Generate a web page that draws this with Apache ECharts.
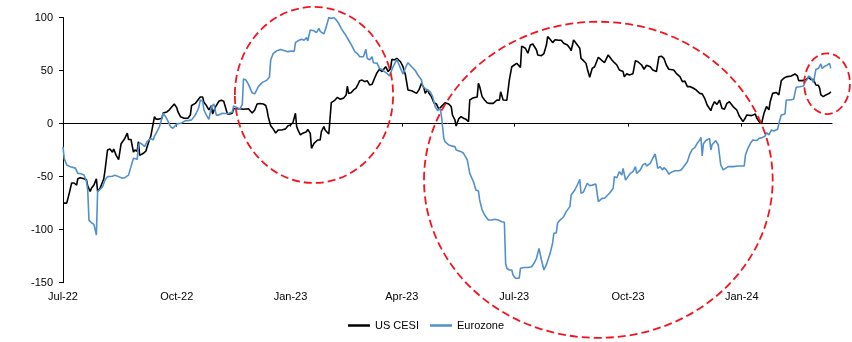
<!DOCTYPE html>
<html>
<head>
<meta charset="utf-8">
<script src="https://cdn.jsdelivr.net/npm/echarts@6/dist/echarts.min.js"></script>
<style>
  html, body { margin: 0; padding: 0; background: #fff; }
  #chart { width: 852px; height: 342px; }
</style>
</head>
<body>
<div id="chart"></div>
<script>
// Citi Economic Surprise Index readings
const usDates = [
  '2022-07-01','2022-07-04','2022-07-06','2022-07-08','2022-07-10','2022-07-12','2022-07-13','2022-07-15','2022-07-18','2022-07-20',
  '2022-07-21','2022-07-23','2022-07-24','2022-07-26','2022-07-28','2022-07-29','2022-07-31','2022-08-03','2022-08-04','2022-08-06',
  '2022-08-08','2022-08-10','2022-08-11','2022-08-13','2022-08-15','2022-08-17','2022-08-20','2022-08-22','2022-08-23','2022-08-25',
  '2022-08-27','2022-08-28','2022-08-30','2022-08-31','2022-09-01','2022-09-04','2022-09-06','2022-09-07','2022-09-09','2022-09-10',
  '2022-09-11','2022-09-13','2022-09-14','2022-09-16','2022-09-19','2022-09-20','2022-09-23','2022-09-25','2022-09-29','2022-10-01',
  '2022-10-02','2022-10-04','2022-10-07','2022-10-10','2022-10-12','2022-10-13','2022-10-16','2022-10-18','2022-10-20','2022-10-22',
  '2022-10-23','2022-10-25','2022-10-27','2022-10-29','2022-10-30','2022-11-01','2022-11-02','2022-11-04','2022-11-06','2022-11-08',
  '2022-11-09','2022-11-11','2022-11-13','2022-11-15','2022-11-16','2022-11-17','2022-11-19','2022-11-21','2022-11-24','2022-11-28',
  '2022-11-29','2022-12-01','2022-12-03','2022-12-05','2022-12-07','2022-12-10','2022-12-12','2022-12-13','2022-12-14','2022-12-16',
  '2022-12-18','2022-12-20','2022-12-22','2022-12-25','2022-12-28','2022-12-30','2023-01-01','2023-01-03','2023-01-05','2023-01-06',
  '2023-01-07','2023-01-09','2023-01-11','2023-01-14','2023-01-15','2023-01-17','2023-01-18','2023-01-20','2023-01-21','2023-01-23',
  '2023-01-25','2023-01-26','2023-01-28','2023-01-29','2023-01-30','2023-02-01','2023-02-02','2023-02-03','2023-02-06','2023-02-08',
  '2023-02-10','2023-02-13','2023-02-15','2023-02-16','2023-02-17','2023-02-19','2023-02-21','2023-02-23','2023-02-25','2023-02-26',
  '2023-02-28','2023-03-02','2023-03-04','2023-03-06','2023-03-08','2023-03-10','2023-03-12','2023-03-14','2023-03-16','2023-03-17',
  '2023-03-19','2023-03-21','2023-03-23','2023-03-24','2023-03-26','2023-03-28','2023-03-31','2023-04-02','2023-04-04','2023-04-06',
  '2023-04-09','2023-04-13','2023-04-15','2023-04-17','2023-04-19','2023-04-20','2023-04-22','2023-04-23','2023-04-25','2023-04-27',
  '2023-04-29','2023-05-01','2023-05-03','2023-05-06','2023-05-09','2023-05-11','2023-05-12','2023-05-14','2023-05-15','2023-05-17',
  '2023-05-19','2023-05-21','2023-05-23','2023-05-25','2023-05-26','2023-05-28','2023-05-30','2023-06-01','2023-06-02','2023-06-03',
  '2023-06-05','2023-06-06','2023-06-07','2023-06-09','2023-06-11','2023-06-14','2023-06-15','2023-06-17','2023-06-19','2023-06-20',
  '2023-06-22','2023-06-23','2023-06-25','2023-06-27','2023-06-29','2023-07-01','2023-07-03','2023-07-04','2023-07-06','2023-07-07',
  '2023-07-10','2023-07-12','2023-07-14','2023-07-16','2023-07-19','2023-07-20','2023-07-23','2023-07-25','2023-07-27','2023-07-28',
  '2023-07-30','2023-08-01','2023-08-03','2023-08-06','2023-08-08','2023-08-10','2023-08-13','2023-08-15','2023-08-16','2023-08-18',
  '2023-08-20','2023-08-23','2023-08-24','2023-08-26','2023-08-28','2023-08-29','2023-08-31','2023-09-02','2023-09-04','2023-09-07',
  '2023-09-10','2023-09-12','2023-09-15','2023-09-18','2023-09-20','2023-09-22','2023-09-24','2023-09-27','2023-09-28','2023-09-30',
  '2023-10-02','2023-10-05','2023-10-07','2023-10-09','2023-10-12','2023-10-14','2023-10-16','2023-10-19','2023-10-21','2023-10-24',
  '2023-10-26','2023-10-28','2023-10-30','2023-11-01','2023-11-03','2023-11-07','2023-11-09','2023-11-12','2023-11-14','2023-11-16',
  '2023-11-18','2023-11-20','2023-11-23','2023-11-25','2023-11-28','2023-11-30','2023-12-02','2023-12-04','2023-12-07','2023-12-08',
  '2023-12-10','2023-12-12','2023-12-14','2023-12-16','2023-12-18','2023-12-20','2023-12-22','2023-12-25','2023-12-28','2023-12-30',
  '2024-01-02','2024-01-04','2024-01-05','2024-01-09','2024-01-12','2024-01-13','2024-01-15','2024-01-17','2024-01-19','2024-01-21',
  '2024-01-23','2024-01-24','2024-01-26','2024-01-29','2024-01-31','2024-02-02','2024-02-04','2024-02-06','2024-02-10','2024-02-13',
  '2024-02-15','2024-02-16','2024-02-19','2024-02-22','2024-02-24','2024-02-26','2024-02-28','2024-03-01','2024-03-03','2024-03-04',
  '2024-03-05','2024-03-07','2024-03-09','2024-03-12','2024-03-13'
];
const usCesi = [
  -75,-75,-66,-56,-56,-58,-52,-51,-52,-53,
  -59,-64,-61,-58,-52,-64,-61,-52,-44,-25,
  -24,-27,-24,-30,-34,-19,-14,-9,-15,-15,
  -27,-25,-26,-17,-30,-28,-26,-22,-15,-12,
  -11,6.5,4.4,4,5,10,11,13,18.5,15,
  11,6.5,5,5,8,17,19,22,25,25,
  20,17,13,17,9,15,17,21,22,21,
  22,9,9,10,14,13.5,14,14,13.5,14,
  14,10,12.5,18.5,19,18.5,17,13,6.5,-2,
  -5,-9,-6,-6,-5,-2,-1.3,0.9,9.7,-2.8,
  -6,-10.7,-9,-7.7,-5.5,-9.2,-23.3,-18.6,-17,-15.5,
  -15.5,-7.6,-2.9,-6,-5.4,-9.8,-10.7,19.7,22.2,24.8,
  23,24,27,35.4,28.5,29,31.7,33.4,38,40.4,
  41,39.5,40.5,36.4,37,42.7,48,51.2,49,50,
  53.6,49,52,60.6,60,61.5,58.3,53.6,45.8,31.7,
  31,28.5,32,38,33.3,28.5,32,28.5,25.4,19.7,
  18.5,13.5,16,19.7,18.5,16,8.1,3.4,-2.3,4.4,
  6.5,5,4,1.8,22.2,23.8,24.5,25,38,35,
  25.4,26,22.2,19.7,19,19,19.7,22.2,22,30,
  22.2,23,22,41,53.6,55.2,56.8,57.5,53,73,
  71,66.3,74,75,69.4,64.7,64,66,74,82,
  79.5,76.3,79,78.5,78.5,75.7,74,71,68.7,78.8,
  75.7,71,61.5,59.3,56.8,52,43.6,52,53.6,62.5,
  59.3,57.4,64.7,60,57.4,55.2,50.5,49,44.2,47,
  45.8,47,59.3,58.3,55.2,51.2,55,53.6,50.5,49,
  63,63.5,61.5,55.2,51.2,50.5,47.4,44.2,39.5,40,
  34.8,35,33.3,31.7,28.5,28,23.8,17.5,12.2,15.9,
  20.6,18,22.2,14.4,13.5,19.1,20.6,16,12.8,7.2,
  1.8,5.5,8.1,7.5,9,5.5,1.8,0,9.7,16,
  13,20.6,28.5,29.3,27,40.5,42.7,44,44.9,46.8,
  45,40.5,40.5,41.5,43.6,41.5,41.5,36.4,36,33.3,
  27,25.4,27,28.5,30
];
const ezDates = [
  '2022-07-01','2022-07-02','2022-07-04','2022-07-07','2022-07-11','2022-07-13','2022-07-15','2022-07-18','2022-07-20','2022-07-21',
  '2022-07-22','2022-07-24','2022-07-26','2022-07-27','2022-07-28','2022-07-29','2022-07-31','2022-08-02','2022-08-04','2022-08-06',
  '2022-08-10','2022-08-12','2022-08-15','2022-08-18','2022-08-20','2022-08-23','2022-08-25','2022-08-27','2022-08-28','2022-08-30',
  '2022-08-31','2022-09-01','2022-09-03','2022-09-05','2022-09-07','2022-09-10','2022-09-12','2022-09-13','2022-09-15','2022-09-17',
  '2022-09-19','2022-09-20','2022-09-22','2022-09-24','2022-09-26','2022-09-27','2022-09-28','2022-10-01','2022-10-02','2022-10-05',
  '2022-10-08','2022-10-11','2022-10-13','2022-10-16','2022-10-18','2022-10-19','2022-10-20','2022-10-22','2022-10-23','2022-10-25',
  '2022-10-27','2022-10-28','2022-10-29','2022-10-31','2022-11-02','2022-11-04','2022-11-07','2022-11-09','2022-11-12','2022-11-15',
  '2022-11-16','2022-11-19','2022-11-21','2022-11-23','2022-11-24','2022-11-26','2022-11-28','2022-12-01','2022-12-03','2022-12-04',
  '2022-12-06','2022-12-09','2022-12-13','2022-12-15','2022-12-16','2022-12-18','2022-12-21','2022-12-24','2022-12-28','2022-12-30',
  '2023-01-02','2023-01-04','2023-01-05','2023-01-07','2023-01-10','2023-01-12','2023-01-14','2023-01-15','2023-01-17','2023-01-20',
  '2023-01-22','2023-01-24','2023-01-25','2023-01-28','2023-01-30','2023-02-01','2023-02-03','2023-02-05','2023-02-07','2023-02-09',
  '2023-02-11','2023-02-14','2023-02-17','2023-02-20','2023-02-22','2023-02-24','2023-02-26','2023-03-01','2023-03-03','2023-03-04',
  '2023-03-06','2023-03-08','2023-03-09','2023-03-12','2023-03-14','2023-03-16','2023-03-18','2023-03-20','2023-03-22','2023-03-25',
  '2023-03-28','2023-03-31','2023-04-02','2023-04-05','2023-04-06','2023-04-09','2023-04-12','2023-04-14','2023-04-17','2023-04-18',
  '2023-04-21','2023-04-24','2023-04-26','2023-04-28','2023-04-30','2023-05-02','2023-05-03','2023-05-05','2023-05-06','2023-05-09',
  '2023-05-11','2023-05-14','2023-05-15','2023-05-19','2023-05-21','2023-05-24','2023-05-26','2023-05-29','2023-05-31','2023-06-02',
  '2023-06-03','2023-06-05','2023-06-07','2023-06-10','2023-06-13','2023-06-15','2023-06-18','2023-06-21','2023-06-23','2023-06-24',
  '2023-06-25','2023-06-27','2023-06-29','2023-06-30','2023-07-02','2023-07-05','2023-07-06','2023-07-09','2023-07-12','2023-07-15',
  '2023-07-17','2023-07-19','2023-07-21','2023-07-23','2023-07-25','2023-07-27','2023-07-30','2023-08-01','2023-08-02','2023-08-04',
  '2023-08-05','2023-08-07','2023-08-10','2023-08-12','2023-08-15','2023-08-16','2023-08-19','2023-08-21','2023-08-23','2023-08-24',
  '2023-08-26','2023-08-29','2023-08-31','2023-09-02','2023-09-05','2023-09-07','2023-09-10','2023-09-12','2023-09-14','2023-09-16',
  '2023-09-19','2023-09-20','2023-09-22','2023-09-24','2023-09-26','2023-09-27','2023-09-28','2023-09-29','2023-10-01','2023-10-03',
  '2023-10-05','2023-10-07','2023-10-08','2023-10-11','2023-10-13','2023-10-15','2023-10-16','2023-10-19','2023-10-21','2023-10-23',
  '2023-10-24','2023-10-25','2023-10-27','2023-10-29','2023-10-30','2023-11-01','2023-11-03','2023-11-06','2023-11-08','2023-11-11',
  '2023-11-13','2023-11-15','2023-11-18','2023-11-20','2023-11-22','2023-11-24','2023-11-26','2023-11-28','2023-11-29','2023-11-30',
  '2023-12-01','2023-12-03','2023-12-06','2023-12-07','2023-12-08','2023-12-11','2023-12-13','2023-12-15','2023-12-17','2023-12-18',
  '2023-12-21','2023-12-25','2023-12-29','2024-01-03','2024-01-04','2024-01-06','2024-01-08','2024-01-10','2024-01-13','2024-01-15',
  '2024-01-17','2024-01-20','2024-01-21','2024-01-23','2024-01-25','2024-01-27','2024-01-30','2024-01-31','2024-02-02','2024-02-05',
  '2024-02-06','2024-02-09','2024-02-12','2024-02-14','2024-02-17','2024-02-20','2024-02-21','2024-02-23','2024-02-24','2024-02-26',
  '2024-02-28','2024-03-01','2024-03-03','2024-03-05','2024-03-06','2024-03-08','2024-03-10','2024-03-12','2024-03-13'
];
const eurozone = [
  -22,-33,-39,-40.6,-42,-47,-47,-48.5,-54.7,-62.6,
  -91,-93.5,-95,-96,-105,-64,-62,-59.5,-53.2,-50,
  -49.6,-48.6,-50,-51.6,-51,-48.6,-40.6,-32.7,-32,-33.7,
  -21.7,-18,-19.5,-21.7,-17,-14,-15.5,-11.8,-7.7,-3,
  5,9.7,6.5,2,-3,-2,-4.4,-0.5,-1.6,0.6,
  2.8,3,3.5,8,12.8,16,22.2,21,12.8,8,
  4,9.7,16,18.5,8,8,9.7,9.5,9.7,11,
  16.6,15,13.5,18,42,41,37,29,28,30,
  34.8,38.6,41,44,60,66,68.7,69.8,68.5,67.8,
  68.5,68,76.3,78,79.5,78.5,81,78,88.2,87.5,
  85.7,89.8,87,84.5,91.4,100,99,100,97.7,94.5,
  89.8,84.5,78.8,72.5,67.8,66,63,63,70,61.6,
  60,63,57.4,57,52,51,49,47.4,44.9,53.6,
  60.6,52,46.8,55.2,57.4,53.6,49.9,45.8,41,34.8,
  32.3,30,25.4,16,12.2,14.4,8.1,-13.9,-17,-20.2,
  -21,-21.7,-24.9,-26.5,-28,-34.3,-46.9,-54.8,-62.6,-63.5,
  -72,-81.4,-86.2,-90.9,-90.9,-90.2,-90.9,-92.5,-93,-131.7,
  -136.4,-138,-138,-142.7,-145.8,-145.8,-136.4,-135.7,-135.7,-135,
  -131.7,-127,-117.6,-128.6,-138,-133,-122.3,-112.8,-103.4,-103,
  -94,-91,-87.8,-83,-78.3,-67.3,-62.6,-57.9,-52.5,-65.7,
  -64.5,-56.3,-58.6,-58,-57,-73.6,-70.5,-70.4,-68,-65.7,
  -61,-50,-51,-45.3,-48.5,-42.2,-41,-53.2,-50,-46.9,
  -45.3,-40.6,-47,-43.7,-39,-37.5,-40,-37.5,-32.7,-28.7,
  -35,-42.2,-40.6,-43.7,-41.5,-43.7,-47.5,-45.3,-44.5,-44.5,
  -43.7,-40.6,-35.9,-28.7,-24.3,-22.7,-18.6,-15.5,-12.9,-30.5,
  -19,-16,-13.9,-24.9,-20,-16,-20.2,-39,-43.7,-42.2,
  -40.6,-40.6,-40,-40,-29.6,-23.3,-18.6,-15.5,-16,-13.9,
  -13.5,-11.7,-8.6,-10.7,-6,-7,-5.4,0,8.1,9,
  22.2,22.2,23,34.2,34.8,35.5,38.6,41.8,44.9,43,
  38.6,51.2,52,56.2,52,54,55,56.8,52
];

// x-axis quarter ticks
const tickDates = ['2022-07-01','2022-10-01','2023-01-01','2023-04-01','2023-07-01','2023-10-01','2024-01-01'];
const tickLabels = ['Jul-22','Oct-22','Jan-23','Apr-23','Jul-23','Oct-23','Jan-24'];
const axisStart = '2022-07-01';
const axisEnd = '2024-03-14';

// dashed highlight rings: centre (date, value) and radii in days / index points
const rings = [
  { date: '2023-01-20', value: 27,   rxDays: 64,   ryPts: 83 },
  { date: '2023-09-07', value: -53,  rxDays: 141,  ryPts: 149 },
  { date: '2024-03-10', value: 37.6, rxDays: 18.5, ryPts: 28.6 }
];

// the x scale counts calendar days from the first date
const DAY = 86400000;
const t0 = Date.UTC(2022, 6, 1);
function dayNo(s) {
  const p = s.split('-').map(Number);
  return Math.round((Date.UTC(p[0], p[1] - 1, p[2]) - t0) / DAY);
}
const tickDays = tickDates.map(dayNo);
const labelFor = {};
tickDays.forEach((d, i) => { labelFor[d] = tickLabels[i]; });

const FONT = 'Liberation Sans, Arial, sans-serif';
const BLUE = '#5290cc';
const chart = echarts.init(document.getElementById('chart'), null, { renderer: 'canvas' });

const xMin = dayNo(axisStart);
const xMax = dayNo(axisEnd);

chart.setOption({
  animation: false,
  backgroundColor: '#fff',
  textStyle: { fontFamily: FONT },
  grid: { left: 63, right: 20, top: 17.5, bottom: 59.3, containLabel: false },
  legend: {
    data: ['US CESI', 'Eurozone'],
    left: 343,
    top: 315,
    icon: 'rect',
    itemWidth: 22,
    itemHeight: 2.5,
    itemGap: 11,
    textStyle: { fontFamily: FONT, fontSize: 11, color: '#000' }
  },
  xAxis: [
    {
      type: 'value',
      min: xMin,
      max: xMax,
      position: 'bottom',
      axisLine: { show: false, onZero: false },
      axisTick: { show: false },
      splitLine: { show: false },
      axisLabel: {
        customValues: tickDays,
        formatter: v => labelFor[v] || '',
        color: '#000',
        fontSize: 11,
        fontFamily: FONT,
        margin: 9,
        showMinLabel: true,
        hideOverlap: false
      }
    },
    {
      type: 'value',
      min: xMin,
      max: xMax,
      position: 'bottom',
      axisLine: { show: true, onZero: true, lineStyle: { color: '#000', width: 1 } },
      axisTick: { show: true, customValues: tickDays, length: 3, lineStyle: { color: '#000' } },
      axisLabel: { show: false },
      splitLine: { show: false }
    }
  ],
  yAxis: {
    type: 'value',
    min: -150,
    max: 100,
    interval: 50,
    axisLine: { show: true, lineStyle: { color: '#000', width: 1 } },
    axisTick: { show: true, length: 4, lineStyle: { color: '#000' } },
    splitLine: { show: false },
    axisLabel: { color: '#000', fontSize: 11, fontFamily: FONT, margin: 10 }
  },
  series: [
    {
      name: 'US CESI',
      type: 'line',
      xAxisIndex: 0,
      showSymbol: false,
      symbol: 'none',
      lineStyle: { color: '#000', width: 1.6 },
      itemStyle: { color: '#000' },
      data: usDates.map((d, i) => [dayNo(d), usCesi[i]])
    },
    {
      name: 'Eurozone',
      type: 'line',
      xAxisIndex: 0,
      showSymbol: false,
      symbol: 'none',
      lineStyle: { color: BLUE, width: 1.6 },
      itemStyle: { color: BLUE },
      data: ezDates.map((d, i) => [dayNo(d), eurozone[i]])
    }
  ]
});

// place the highlight rings through the chart's own scales
const graphics = rings.map(r => {
  const cx = dayNo(r.date);
  const c = chart.convertToPixel({ seriesIndex: 0 }, [cx, r.value]);
  const e = chart.convertToPixel({ seriesIndex: 0 }, [cx + r.rxDays, r.value + r.ryPts]);
  return {
    type: 'ellipse',
    z: 100,
    silent: true,
    shape: { cx: c[0], cy: c[1], rx: Math.abs(e[0] - c[0]), ry: Math.abs(c[1] - e[1]) },
    style: { fill: 'none', stroke: '#f5141e', lineWidth: 1.8, lineDash: [8, 4] }
  };
});
chart.setOption({ graphic: graphics });
</script>
</body>
</html>
